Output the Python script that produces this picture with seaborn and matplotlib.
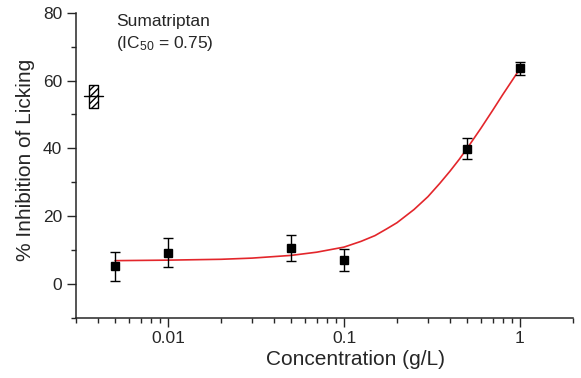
import matplotlib
matplotlib.use('Agg')
import matplotlib.pyplot as plt
import seaborn as sns
import pandas as pd
from matplotlib.ticker import LogLocator, FixedLocator, FixedFormatter, NullFormatter

# Messpunkte (Mittelwert +/- Fehler)
conc = [0.005, 0.01, 0.05, 0.1, 0.5, 1.0]
inhib = [5.1, 9.1, 10.5, 7.0, 39.9, 63.6]
err = [4.3, 4.3, 3.8, 3.3, 3.0, 2.0]

# Fit-Kurve
fit_conc = [0.005, 0.01, 0.02, 0.03, 0.05, 0.07, 0.1, 0.125, 0.15, 0.175,
            0.2, 0.25, 0.3, 0.35, 0.4, 0.45, 0.5, 0.6, 0.7, 0.8, 0.9, 1.0]
fit_inhib = [6.8, 6.95, 7.2, 7.55, 8.35, 9.3, 10.8, 12.5, 14.2, 16.2,
             18.0, 21.9, 25.7, 29.6, 33.2, 36.6, 39.9, 45.9, 51.2, 55.9, 59.9, 63.5]

# Referenz-Box links
ref_low, ref_high, ref_mid = 51.9, 58.8, 55.3
ref_x0, ref_x1 = 0.00357, 0.00398
ref_line_x0, ref_line_x1 = 0.00331, 0.00428

x_major = [0.01, 0.1, 1]
x_labels = ['0.01', '0.1', '1']
y_major = [0, 20, 40, 60, 80]
y_minor = [-10, 10, 30, 50, 70]

sns.set_style('ticks')
plt.rcParams['font.family'] = ['Liberation Sans', 'DejaVu Sans']
plt.rcParams['mathtext.default'] = 'regular'

fig = plt.figure(figsize=(5.81, 3.78), dpi=100)
ax = fig.add_axes([0.131, 0.160, 0.855, 0.806])

df_fit = pd.DataFrame({'conc': fit_conc, 'inhib': fit_inhib})
sns.lineplot(data=df_fit, x='conc', y='inhib', ax=ax, color='#e3262b',
             linewidth=1.2, sort=False, zorder=2)

ax.errorbar(conc, inhib, yerr=err, fmt='s', color='black', markersize=5.5,
            ecolor='black', elinewidth=1.0, capsize=3.5, capthick=1.0, zorder=3)

# Referenz-Box
ax.fill_betweenx([ref_low, ref_high], ref_x0, ref_x1, facecolor='white',
                 edgecolor='black', hatch='/////', linewidth=1.0, zorder=2)
ax.plot([ref_line_x0, ref_line_x1], [ref_mid, ref_mid], color='black',
        linewidth=1.0, zorder=3)

ax.set_xscale('log')
ax.set_xlim(0.003, 2.0)
ax.set_ylim(-10, 80)

ax.xaxis.set_major_locator(FixedLocator(x_major))
ax.xaxis.set_major_formatter(FixedFormatter(x_labels))
ax.xaxis.set_minor_locator(LogLocator(base=10, subs=range(2, 10)))
ax.xaxis.set_minor_formatter(NullFormatter())
ax.yaxis.set_major_locator(FixedLocator(y_major))
ax.yaxis.set_minor_locator(FixedLocator(y_minor))

ax.tick_params(which='major', length=6.5, width=1.0, labelsize=12.5, pad=3.5)
ax.tick_params(which='minor', length=3.5, width=1.0)

ax.set_xlabel('Concentration (g/L)', fontsize=15, labelpad=3)
ax.set_ylabel('% Inhibition of Licking', fontsize=15, labelpad=6)
ax.xaxis.set_label_coords(0.563, -0.105)
ax.yaxis.get_label().set_y(0.517)

for s in ['left', 'bottom']:
    ax.spines[s].set_linewidth(1.1)
sns.despine(ax=ax)

ax.text(0.0805, 0.970, 'Sumatriptan', transform=ax.transAxes,
        fontsize=12.5, va='center', ha='left')
ax.text(0.0805, 0.901, '(IC$_{50}$ = 0.75)', transform=ax.transAxes,
        fontsize=12.5, va='center', ha='left')

plt.savefig('out.png', dpi=100)
